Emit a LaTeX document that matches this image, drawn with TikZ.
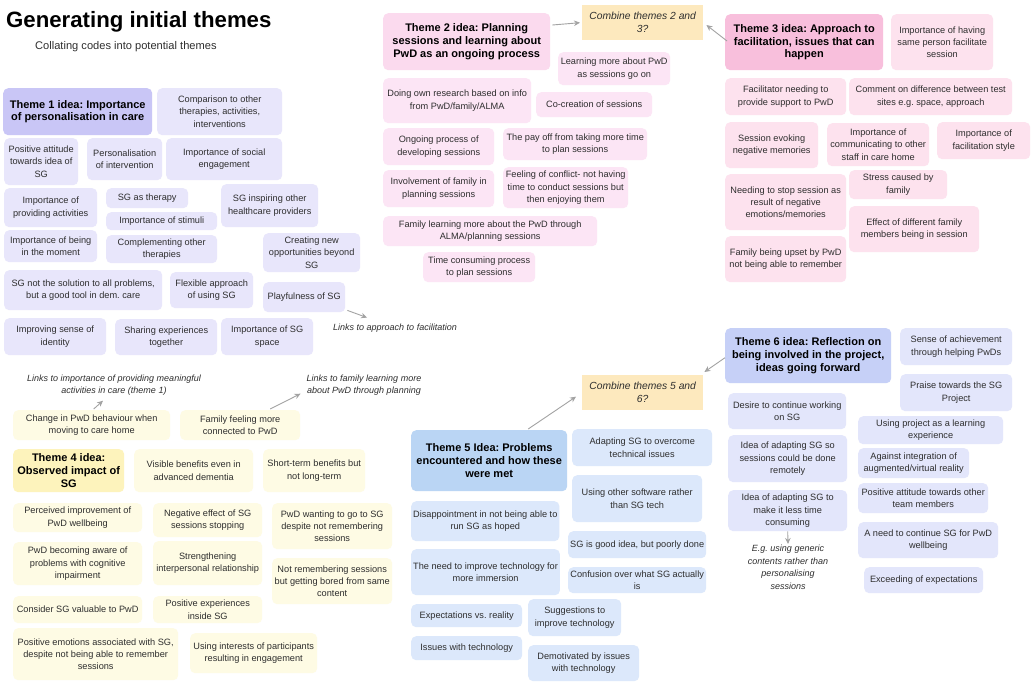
\documentclass[tikz,border=0pt]{standalone}
\usepackage{fontspec}
\setmainfont{Liberation Sans}
\usetikzlibrary{arrows.meta,calc}
\frenchspacing

\definecolor{txt}{HTML}{2E2E2E}
\definecolor{oneL}{HTML}{E8E6FB}
\definecolor{oneD}{HTML}{C9C6F6}
\definecolor{twoL}{HTML}{FCE5F5}
\definecolor{twoD}{HTML}{FBDAEE}
\definecolor{thrL}{HTML}{FDE2EE}
\definecolor{thrD}{HTML}{F8BFDC}
\definecolor{fouL}{HTML}{FEFBE4}
\definecolor{fouD}{HTML}{FDF3BC}
\definecolor{fivL}{HTML}{DCE8FB}
\definecolor{fivD}{HTML}{BAD5F4}
\definecolor{sixL}{HTML}{E3E6FB}
\definecolor{sixD}{HTML}{C6D0F7}
\definecolor{combc}{HTML}{FDE9BE}
\definecolor{arrc}{HTML}{A3A3A3}

% box with its north-west corner at (x1,y1) and south-east corner at (x2,y2)
\newcommand\bx[7]{\node[#6,anchor=north west,minimum width={#4-#2},minimum height={#5-#3}] (#1) at (#2,#3) {#7};}

\tikzset{
  card/.style={rounded corners=5pt,inner sep=2pt,align=center,text=txt,
    font=\fontsize{9.2}{12.2}\selectfont},
  head/.style={card,text=black,font=\bfseries\fontsize{11}{12.8}\selectfont},
  c1/.style={card,fill=oneL}, h1/.style={head,fill=oneD},
  c2/.style={card,fill=twoL}, h2/.style={head,fill=twoD},
  c3/.style={card,fill=thrL}, h3/.style={head,fill=thrD},
  c4/.style={card,fill=fouL}, h4/.style={head,fill=fouD},
  c5/.style={card,fill=fivL}, h5/.style={head,fill=fivD},
  c6/.style={card,fill=sixL}, h6/.style={head,fill=sixD},
  comb/.style={inner sep=2pt,align=center,fill=combc,text=txt,
    font=\itshape\fontsize{10.3}{13}\selectfont},
  remark/.style={inner sep=1pt,align=center,text=txt,
    font=\itshape\fontsize{9}{12.6}\selectfont},
  arr/.style={draw=arrc,line width=0.9pt,-{Stealth[length=6pt,width=5.5pt]}}
}

\begin{document}
\begin{tikzpicture}[x=1pt,y=-1pt]
\useasboundingbox[fill=white] (0,0) rectangle (1033,682);

% title
\node[anchor=south west,inner sep=0pt,font=\bfseries\fontsize{22.2}{24}\selectfont] (title) at (6,32) {Generating initial themes};
\node[anchor=west,inner sep=0pt,font=\fontsize{11.1}{13}\selectfont,text=txt] (subtitle) at (35,47) {Collating codes into potential themes};

% theme 1
\bx{t1}{3}{88}{152}{135}{h1}{Theme 1 idea: Importance\\of personalisation in care}
\bx{cmp}{157}{88}{282}{135}{c1}{Comparison to other\\therapies, activities,\\interventions}
\bx{pos}{4}{138}{78}{185}{c1}{Positive attitude\\towards idea of\\SG}
\bx{per}{87}{138}{162}{180}{c1}{Personalisation\\of intervention}
\bx{soc}{166}{138}{282}{180}{c1}{Importance of social\\engagement}
\bx{act}{4}{188}{97}{227}{c1}{Importance of\\providing activities}
\bx{thr}{106}{188}{188}{208}{c1}{SG as therapy}
\bx{stm}{106}{212}{217}{230}{c1}{Importance of stimuli}
\bx{ins}{221}{184}{318}{227}{c1}{SG inspiring other\\healthcare providers}
\bx{mom}{4}{230}{97}{262}{c1}{Importance of being\\in the moment}
\bx{cpl}{106}{235}{217}{263}{c1}{Complementing other\\therapies}
\bx{opp}{263}{233}{360}{272}{c1}{Creating new\\opportunities beyond\\SG}
\bx{sol}{4}{270}{162}{310}{c1}{SG not the solution to all problems,\\but a good tool in dem. care}
\bx{flx}{170}{272}{253}{308}{c1}{Flexible approach\\of using SG}
\bx{ply}{263}{282}{345}{312}{c1}{Playfulness of SG}
\bx{idn}{4}{318}{106}{355}{c1}{Improving sense of\\identity}
\bx{shr}{115}{319}{217}{355}{c1}{Sharing experiences\\together}
\bx{spc}{221}{318}{313}{355}{c1}{Importance of SG\\space}
\node[remark] (lnkA) at (395,328) {Links to approach to facilitation};
\draw[arr] ($(ply.south east)+(2,-2)$) -- ($(lnkA.north west)+(35,-5)$);

% theme 2
\bx{t2}{383}{13}{550}{70}{h2}{Theme 2 idea: Planning\\sessions and learning about\\PwD as an ongoing process}
\bx{c23}{582}{5}{703}{40}{comb}{Combine themes 2 and\\3?}
\bx{lrn}{558}{52}{670}{85}{c2}{Learning more about PwD\\as sessions go on}
\bx{res}{383}{78}{531}{123}{c2}{Doing own research based on info\\from PwD/family/ALMA}
\bx{coc}{536}{92}{652}{117}{c2}{Co-creation of sessions}
\bx{ong}{383}{128}{494}{165}{c2}{Ongoing process of\\developing sessions}
\bx{pay}{503}{128}{647}{160}{c2}{The pay off from taking more time\\to plan sessions}
\bx{inv}{383}{170}{494}{207}{c2}{Involvement of family in\\planning sessions}
\bx{cnf}{503}{167}{628}{208}{c2}{Feeling of conflict- not having\\time to conduct sessions but\\then enjoying them}
\bx{flm}{383}{216}{597}{246}{c2}{Family learning more about the PwD through\\ALMA/planning sessions}
\bx{tcp}{423}{252}{535}{282}{c2}{Time consuming process\\to plan sessions}
\draw[arr] ($(t2.north east)+(2,12)$) -- ($(c23.west)+(-2,0)$);

% theme 3
\bx{t3}{725}{14}{883}{70}{h3}{Theme 3 idea: Approach to\\facilitation, issues that can\\happen}
\bx{same}{891}{14}{993}{70}{c3}{Importance of having\\same person facilitate\\session}
\bx{fac}{725}{78}{846}{115}{c3}{Facilitator needing to\\provide support to PwD}
\bx{cmt}{849}{78}{1012}{115}{c3}{Comment on difference between test\\sites e.g. space, approach}
\bx{evk}{725}{122}{818}{168}{c3}{Session evoking\\negative memories}
\bx{com}{827}{123}{929}{166}{c3}{Importance of\\communicating to other\\staff in care home}
\bx{sty}{937}{122}{1030}{159}{c3}{Importance of\\facilitation style}
\bx{stp}{725}{174}{846}{230}{c3}{Needing to stop session as\\result of negative\\emotions/memories}
\bx{strs}{849}{170}{947}{199}{c3}{Stress caused by\\family}
\bx{eff}{849}{206}{979}{252}{c3}{Effect of different family\\members being in session}
\bx{ups}{725}{236}{846}{282}{c3}{Family being upset by PwD\\not being able to remember}
\draw[arr] ($(t3.north west)+(2,27)$) -- ($(c23.north east)+(3,20)$);

% theme 4
\node[remark] (lnkB) at (114,385) {Links to importance of providing meaningful\\activities in care (theme 1)};
\node[remark] (lnkC) at (364,385) {Links to family learning more\\about PwD through planning};
\bx{chg}{13}{410}{170}{440}{c4}{Change in PwD behaviour when\\moving to care home}
\bx{fam}{180}{410}{300}{440}{c4}{Family feeling more\\connected to PwD}
\bx{t4}{13}{449}{124}{492}{h4}{Theme 4 idea:\\Observed impact of\\SG}
\bx{vis}{134}{449}{253}{492}{c4}{Visible benefits even in\\advanced dementia}
\bx{sht}{263}{449}{365}{492}{c4}{Short-term benefits but\\not long-term}
\bx{prc}{13}{503}{142}{532}{c4}{Perceived improvement of\\PwD wellbeing}
\bx{neg}{153}{503}{262}{537}{c4}{Negative effect of SG\\sessions stopping}
\bx{wnt}{272}{503}{392}{549}{c4}{PwD wanting to go to SG\\despite not remembering\\sessions}
\bx{awr}{13}{542}{142}{585}{c4}{PwD becoming aware of\\problems with cognitive\\impairment}
\bx{str}{153}{541}{262}{585}{c4}{Strengthening\\interpersonal relationship}
\bx{nrm}{272}{558}{392}{604}{c4}{Not remembering sessions\\but getting bored from same\\content}
\bx{val}{13}{596}{142}{623}{c4}{Consider SG valuable to PwD}
\bx{pex}{153}{596}{262}{623}{c4}{Positive experiences\\inside SG}
\bx{pem}{13}{628}{178}{680}{c4}{Positive emotions associated with SG,\\despite not being able to remember\\sessions}
\bx{int}{190}{633}{317}{673}{c4}{Using interests of participants\\resulting in engagement}
\draw[arr] ($(chg.north)+(2,-1)$) -- ($(lnkB.south)+(-11,4)$);
\draw[arr] ($(fam.north)+(30,-1)$) -- ($(lnkC.south west)+(-5,-3)$);

% theme 5
\bx{c56}{582}{375}{703}{410}{comb}{Combine themes 5 and\\6?}
\bx{t5}{411}{430}{567}{491}{h5}{Theme 5 Idea: Problems\\encountered and how these\\were met}
\bx{adp}{572}{429}{712}{466}{c5}{Adapting SG to overcome\\technical issues}
\bx{oth}{572}{475}{702}{522}{c5}{Using other software rather\\than SG tech}
\bx{dis}{411}{501}{558}{541}{c5}{Disappointment in not being able to\\run SG as hoped}
\bx{gd}{568}{531}{706}{558}{c5}{SG is good idea, but poorly done}
\bx{imp}{411}{549}{558}{595}{c5}{The need to improve technology for\\more immersion}
\bx{cnfs}{568}{567}{706}{593}{c5}{Confusion over what SG actually\\is}
\bx{exr}{411}{604}{522}{627}{c5}{Expectations vs. reality}
\bx{sug}{528}{599}{621}{636}{c5}{Suggestions to\\improve technology}
\bx{iss}{411}{636}{522}{660}{c5}{Issues with technology}
\bx{dem}{528}{645}{639}{681}{c5}{Demotivated by issues\\with technology}
\draw[arr] ($(t5.north)+(39,-1)$) -- ($(c56.west)+(-6,4)$);

% theme 6
\bx{t6}{725}{328}{891}{383}{h6}{Theme 6 idea: Reflection on\\being involved in the project,\\ideas going forward}
\bx{ach}{900}{328}{1012}{365}{c6}{Sense of achievement\\through helping PwDs}
\bx{prs}{900}{374}{1012}{411}{c6}{Praise towards the SG\\Project}
\bx{des}{728}{393}{846}{429}{c6}{Desire to continue working\\on SG}
\bx{lrp}{858}{416}{1003}{444}{c6}{Using project as a learning\\experience}
\bx{ad1}{728}{435}{847}{482}{c6}{Idea of adapting SG so\\sessions could be done\\remotely}
\bx{agn}{858}{448}{969}{478}{c6}{Against integration of\\augmented/virtual reality}
\bx{ad2}{728}{490}{847}{531}{c6}{Idea of adapting SG to\\make it less time\\consuming}
\bx{tm}{858}{483}{988}{513}{c6}{Positive attitude towards other\\team members}
\bx{ned}{858}{522}{998}{558}{c6}{A need to continue SG for PwD\\wellbeing}
\bx{exc}{864}{567}{983}{593}{c6}{Exceeding of expectations}
\node[remark,anchor=north] (eg) at (788,544) {E.g. using generic\\contents rather than\\personalising\\sessions};
\draw[arr] ($(t6.west)+(0,2)$) -- ($(c56.north east)+(1,-3)$);
\draw[arr] (ad2.south) -- (eg.north);
\end{tikzpicture}
\end{document}
